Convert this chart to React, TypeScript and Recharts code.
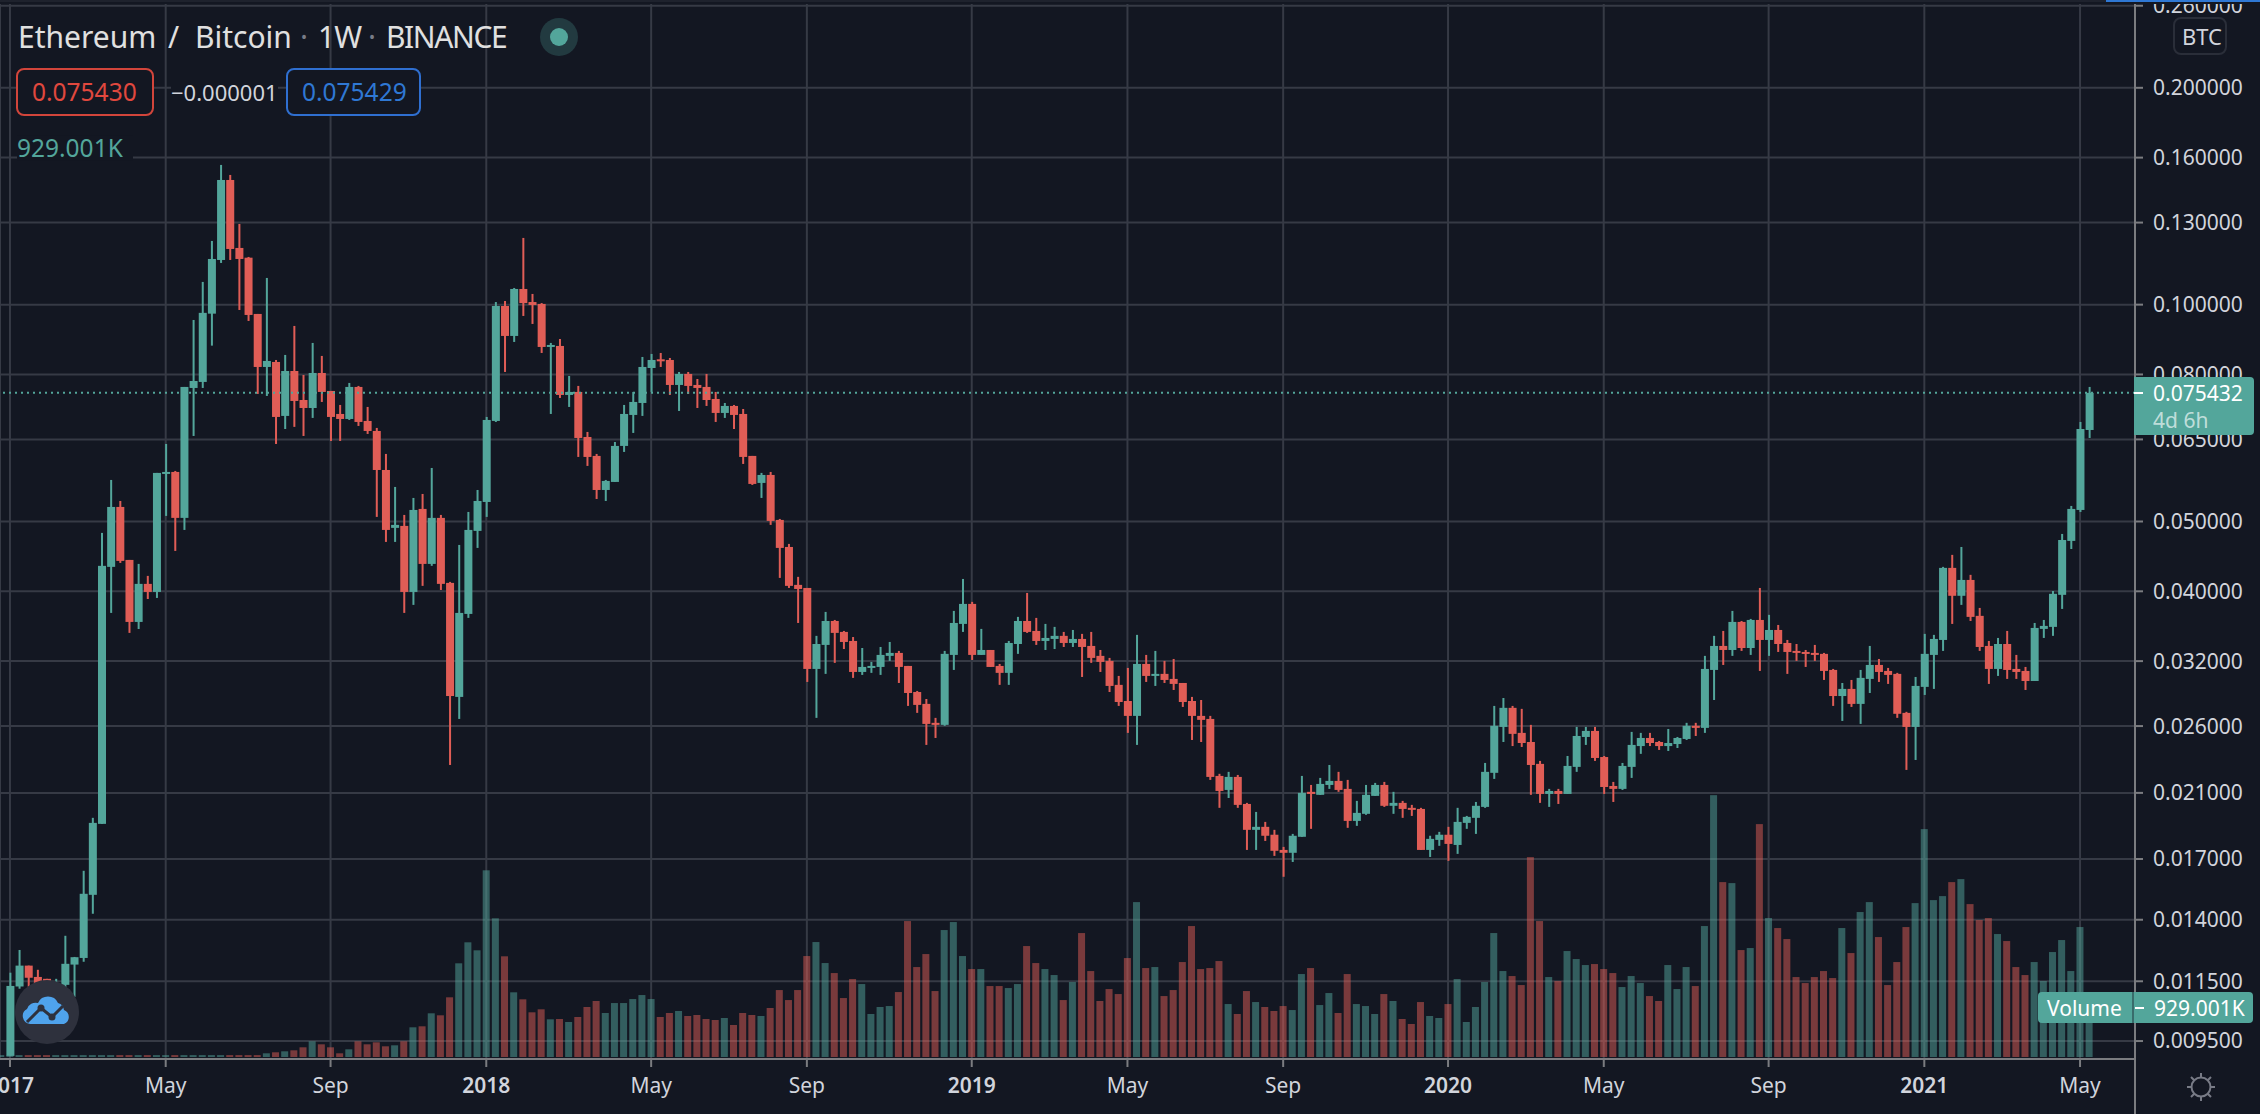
import React from 'react';
import { Bar, CartesianGrid, ComposedChart, ReferenceLine, XAxis, YAxis } from 'recharts';

const BG = '#131722';
const GRID = '#363a45';
const AXIS = '#7b7c80';
const TEXT = '#d1d4dc';
const UP = '#53a69b';
const DOWN = '#e05d56';
const FONT = '"Noto Sans", sans-serif';

// weekly candles ETH/BTC, first one is the week of 2 Jan 2017, prices in 1e-5 BTC
const opens = [
  906,1131,1209,1166,1159,1084,1137,1213,1239,1516,
  1902,4325,5238,4422,3627,4096,3992,5821,5858,5058,
  7662,7811,9716,11535,14896,11987,11620,9707,8194,8326,
  7007,8089,7373,7187,8038,7589,7051,6939,7687,6895,
  6678,5895,4899,4930,3992,5205,4366,5058,4109,2854,
  3721,4852,5322,6895,9958,9048,10514,10084,10022,8735,
  8763,7493,7565,6551,6166,5530,5674,6366,7029,7303,
  8167,8397,8379,7736,8013,7736,7687,7397,7074,7234,
  7051,6166,5656,5802,5025,4609,4083,4043,3121,3370,
  3638,3513,3413,3091,3131,3141,3254,3285,3151,2899,
  2791,2627,2610,3264,3604,3842,3264,3316,3151,3082,
  3380,3638,3524,3413,3435,3469,3391,3435,3359,3254,
  3202,2966,2817,2686,3171,3052,3072,3023,2984,2817,
  2686,2660,2217,2120,2210,2027,1866,1884,1837,1750,
  1734,1825,2107,2087,2154,2182,2127,1920,1964,2080,
  2154,2015,2034,2002,1995,1750,1807,1837,1778,1908,
  1939,2008,2239,2593,2756,2544,2471,2304,2093,2113,
  2093,2282,2511,2560,2355,2147,2127,2282,2439,2503,
  2471,2439,2455,2495,2602,2585,3111,3359,3316,3627,
  3337,3650,3424,3535,3391,3306,3295,3285,3275,3111,
  2862,2928,2791,3023,3161,3101,3072,2712,2593,2947,
  3264,3424,4311,3943,4148,3698,3359,3121,3380,3121,
  3101,3003,3547,3570,3955,4699,5188,6699,
];
const highs = [
  1182,1271,1209,1193,1159,1159,1330,1243,1637,1939,
  4821,5710,5339,4422,4366,4202,5840,6406,5877,7687,
  9522,10753,12258,15630,15138,12943,11647,9707,10891,8379,
  8515,9342,7987,8848,8488,7589,7257,7786,7712,7211,
  6743,6205,5584,5106,5391,5460,5933,5106,4122,4639,
  5155,5530,6984,10084,10117,10548,12377,10348,10051,8848,
  8960,7962,7712,6657,6205,5710,6447,7257,7565,8460,
  8542,8569,8433,8064,8064,7885,8013,7565,7303,7257,
  7164,6166,5840,5858,5041,4654,4189,4043,3469,3745,
  3650,3524,3456,3337,3192,3348,3402,3306,3151,2909,
  2835,2669,3306,3757,4161,3867,3547,3316,3171,3413,
  3686,3979,3674,3604,3570,3513,3535,3491,3513,3316,
  3233,3052,3131,3480,3264,3306,3202,3222,2984,2854,
  2826,2686,2232,2246,2224,2034,1976,1914,1866,1767,
  1842,2217,2154,2203,2296,2246,2189,2047,2154,2168,
  2175,2107,2047,2021,2002,1831,1854,1884,2002,1951,
  2040,2311,2773,2844,2773,2747,2610,2326,2127,2127,
  2363,2593,2593,2593,2363,2175,2311,2552,2544,2544,
  2479,2576,2511,2627,2627,3254,3469,3524,3757,3638,
  3662,4043,3710,3592,3424,3380,3316,3370,3285,3121,
  2984,3013,3111,3359,3222,3131,3082,2721,3042,3491,
  3480,4325,4494,4609,4216,3793,3413,3446,3524,3264,
  3141,3615,3650,4004,4805,5255,6873,7687,
];
const lows = [
  906,1123,1130,1101,1084,1067,1119,1094,1224,1427,
  1902,3733,4380,3502,3546,3903,3916,5090,4551,4867,
  6572,7662,8772,11426,11535,9831,9492,7517,7469,6406,
  6720,6766,6572,6962,7327,6468,6468,6917,6786,6615,
  5074,4684,4684,3733,3830,4070,4339,4017,2296,2660,
  3674,4595,5074,6873,8064,8876,9645,9402,8569,7051,
  7421,7211,6146,5972,5373,5339,5674,6245,6636,7007,
  7565,8194,7493,7119,7517,7187,7234,6873,6962,6720,
  6010,5620,5391,4946,4175,4043,3615,2994,2669,3072,
  3182,3326,3033,3062,3082,3062,3202,2984,2773,2712,
  2448,2503,2602,3111,3513,3212,3264,3141,2966,2966,
  3275,3502,3370,3316,3326,3348,3348,3042,3182,3091,
  2899,2773,2544,2448,2994,2956,2984,2918,2764,2487,
  2471,2189,2002,2066,2002,1750,1750,1801,1717,1606,
  1684,1825,1872,2087,2127,2107,1878,1890,1958,2080,
  2008,1964,1939,1951,1750,1711,1773,1690,1728,1872,
  1842,2002,2196,2471,2439,2432,2087,2034,2008,2027,
  2093,2246,2448,2326,2093,2040,2120,2203,2379,2439,
  2409,2401,2424,2487,2519,2544,2826,3161,3254,3306,
  3264,3101,3254,3295,3072,3202,3141,3202,3013,2773,
  2643,2764,2618,2890,2994,2975,2669,2260,2333,2872,
  2928,3306,3604,3830,3638,3306,2975,3052,3023,3023,
  2918,3003,3446,3469,3781,4579,5155,6530,
];
const closes = [
  1133,1209,1163,1126,1108,1137,1216,1242,1521,1908,
  4339,5238,4408,3627,4096,3992,5840,5858,5058,7687,
  7835,9741,11572,14896,11948,11572,9676,8194,8353,6984,
  8089,7350,7187,8038,7565,6984,6939,7687,6873,6678,
  5895,4867,4946,3992,5188,4366,5058,4096,2862,3733,
  4867,5339,6917,9958,9048,10514,10051,9990,8735,8791,
  7493,7565,6530,6146,5530,5692,6366,7051,7327,8194,
  8379,8345,7736,8013,7712,7662,7373,7074,7234,7029,
  6146,5638,5802,5009,4595,4070,4030,3121,3380,3638,
  3502,3402,3091,3141,3151,3264,3285,3141,2890,2782,
  2618,2610,3275,3615,3842,3264,3316,3141,3082,3391,
  3638,3513,3413,3446,3469,3391,3435,3348,3233,3192,
  2956,2808,2686,3171,3052,3072,3013,2975,2808,2686,
  2652,2210,2113,2210,2021,1866,1884,1831,1745,1734,
  1831,2100,2093,2161,2182,2120,1920,1970,2087,2154,
  2015,2034,1995,1989,1750,1813,1837,1784,1914,1945,
  2015,2246,2602,2756,2536,2463,2296,2093,2113,2093,
  2289,2519,2560,2348,2140,2127,2289,2448,2503,2463,
  2439,2463,2503,2602,2585,3121,3359,3316,3627,3337,
  3650,3424,3535,3380,3295,3285,3275,3264,3101,2862,
  2928,2791,3033,3161,3091,3062,2704,2593,2956,3275,
  3435,4311,3943,4148,3686,3348,3121,3380,3111,3091,
  3003,3558,3581,3968,4713,5205,6720,7543.2,
];

// volume in thousands, starts one week earlier than the candles (that candle is off scale)
const volumes = [
  36,36,36,36,36,36,36,36,36,36,36,36,36,36,36,36,36,36,36,36,36,36,36,36,36,36,36,36,36,
  70,89,108,127,184,298,241,184,70,146,298,241,279,203,222,298,564,583,830,792,
  1134,1780,2179,2027,3547,2635,1913,1229,1096,849,906,716,722,
  665,760,950,1064,836,1025,1025,1101,1177,1101,760,836,874,779,798,722,703,741,608,
  836,798,779,931,1272,1082,1272,1918,2184,1785,1595,1120,1481,1386,817,950,968,1234,
  2583,1709,1956,1253,2412,2564,1918,1671,1671,1348,1348,1310,1386,2108,1785,1671,1557,
  1082,1424,2355,1633,1064,1291,1196,1880,2943,1690,1709,1158,1272,1804,2488,1671,1690,
  1823,1006,817,1253,1044,950,874,968,892,1576,1690,987,1215,836,1576,1006,968,817,1196,
  1064,722,627,1044,779,741,1006,1481,665,950,1424,2355,1633,1538,1367,3798,2583,1519,
  1443,2013,1861,1747,1766,1671,1595,1329,1538,1405,1158,1064,1747,1291,1709,1348,2488,
  4975,3323,3304,2032,2070,4425,2640,2450,2241,1519,1405,1519,1633,1500,2450,1975,2754,
  2943,2279,1367,1804,2469,2924,4330,2981,3057,3323,3380,2905,2602,2640,2336,2203,1709,
  1557,1804,1443,1994,2222,1633,2469,929,
];

const priceTicks = [0.26, 0.2, 0.16, 0.13, 0.1, 0.08, 0.065, 0.05, 0.04, 0.032, 0.026, 0.021, 0.017, 0.014, 0.0115, 0.0095];
const weekTicks = [0, 17, 35, 52, 70, 87, 105, 122, 139, 157, 174, 192, 209, 226];
const weekLabels = ['2017', 'May', 'Sep', '2018', 'May', 'Sep', '2019', 'May', 'Sep', '2020', 'May', 'Sep', '2021', 'May'];
const lastPrice = 0.075432;

const data = volumes.map((volume, k) => {
  const c = k - 1;
  if (c < 0) return { week: c, volume, up: true, wick: null, body: null };
  const o = opens[c] / 1e5;
  const cl = closes[c] / 1e5;
  return {
    week: c,
    volume,
    up: cl >= o,
    wick: [lows[c] / 1e5, highs[c] / 1e5],
    body: [Math.min(o, cl), Math.max(o, cl)],
  };
});

const weekDomain = [-1.09, 232];
const priceDomain = [0.00897, 0.2648];
const volumeDomain = [-38, 20083];

const Candle = (props: any) => {
  const { x, y, width, height, payload } = props;
  if (!payload || payload.wick == null || !isFinite(y) || !isFinite(height)) return null;
  return <rect x={x} y={y} width={width} height={Math.max(height, 2)} fill={payload.up ? UP : DOWN} />;
};

const VolumeBar = (props: any) => {
  const { x, y, width, height, payload } = props;
  return <rect x={x} y={y} width={width} height={height} fill={payload.up ? UP : DOWN} fillOpacity={0.5} />;
};

const WeekTick = (props: any) => {
  const { x, y, payload } = props;
  const label = weekLabels[weekTicks.indexOf(payload.value)];
  const isYear = /^\d/.test(label);
  return (
    <text x={x} y={y + 16} textAnchor="middle" dominantBaseline="central" fill={TEXT} fontFamily={FONT} fontSize={21} fontWeight={isYear ? 600 : 400}>
      {label}
    </text>
  );
};

const label = (left: number, top: number, text: string, color: string, size: number, extra?: React.CSSProperties) => (
  <div style={{ position: 'absolute', left, top, lineHeight: '1', transform: 'translateY(-50%)', color, fontSize: size, fontFamily: FONT, whiteSpace: 'nowrap', ...extra }}>
    {text}
  </div>
);

const box = (left: number, top: number, width: number, height: number, color: string) => (
  <div style={{ position: 'absolute', left, top, width, height, boxSizing: 'border-box', border: `2px solid ${color}`, borderRadius: 8, background: BG }} />
);

const App = () => {
  return (
    <div style={{ position: 'absolute', left: 0, top: 0, width: 2260, height: 1114, background: BG, overflow: 'hidden' }}>
      <ComposedChart width={2260} height={1114} data={data} margin={{ top: 0, right: 0, bottom: 0, left: 0 }} barGap={0}>
        <XAxis xAxisId="main" dataKey="week" type="number" domain={weekDomain} allowDataOverflow ticks={weekTicks} interval={0} height={55} tick={<WeekTick />} tickSize={8} tickLine={{ stroke: AXIS, strokeWidth: 2 }} axisLine={{ stroke: AXIS, strokeWidth: 2 }} />
        <XAxis xAxisId="wick" dataKey="week" type="number" domain={weekDomain} allowDataOverflow hide />
        <XAxis xAxisId="vol" dataKey="week" type="number" domain={weekDomain} allowDataOverflow hide />
        <YAxis yAxisId="price" orientation="right" scale="log" domain={priceDomain} allowDataOverflow ticks={priceTicks} interval={0} width={125} tickSize={8} tickMargin={10} tickFormatter={(v: number) => v.toFixed(6)} tick={{ fill: TEXT, fontSize: 21, fontFamily: FONT }} tickLine={{ stroke: AXIS, strokeWidth: 2 }} axisLine={{ stroke: AXIS, strokeWidth: 2 }} />
        <YAxis yAxisId="vol" domain={volumeDomain} allowDataOverflow hide />
        <CartesianGrid xAxisId="main" yAxisId="price" stroke={GRID} strokeWidth={2} />
        <Bar xAxisId="vol" yAxisId="vol" dataKey="volume" barSize={7} shape={<VolumeBar />} isAnimationActive={false} />
        <ReferenceLine xAxisId="main" yAxisId="price" y={lastPrice} stroke={UP} strokeWidth={2} strokeDasharray="2 4" />
        <Bar xAxisId="wick" yAxisId="price" dataKey="wick" barSize={2} shape={<Candle />} isAnimationActive={false} />
        <Bar xAxisId="main" yAxisId="price" dataKey="body" barSize={8} shape={<Candle />} isAnimationActive={false} />
      </ComposedChart>

      {/* top strip clips the 0.26 label */}
      <div style={{ position: 'absolute', left: 0, top: 0, width: 2260, height: 4, background: BG }} />
      <div style={{ position: 'absolute', left: 0, top: 0, width: 2106, height: 2, background: '#1e222d' }} />
      <div style={{ position: 'absolute', left: 2106, top: 0, width: 154, height: 2, background: '#2f78d4' }} />
      <div style={{ position: 'absolute', left: 2134, top: 1059, width: 2, height: 55, background: AXIS }} />

      {/* legend */}
      {label(18, 37, 'Ethereum', '#e0e0e0', 30)}
      {label(168, 37, '/', '#e0e0e0', 30)}
      {label(195, 37, 'Bitcoin', '#e0e0e0', 30)}
      {label(300, 37, '·', '#787b86', 30)}
      {label(318, 37, '1W', '#e0e0e0', 30, { letterSpacing: -1 })}
      {label(368, 37, '·', '#787b86', 30)}
      {label(386, 37, 'BINANCE', '#e0e0e0', 30, { letterSpacing: -1.4 })}
      <div style={{ position: 'absolute', left: 540, top: 18, width: 38, height: 38, borderRadius: 19, background: '#223a40' }} />
      <div style={{ position: 'absolute', left: 550, top: 28, width: 18, height: 18, borderRadius: 9, background: UP }} />
      {box(16, 68, 138, 48, '#d2453b')}
      {label(32, 92, '0.075430', '#e0483e', 24.5)}
      {label(171, 92, '−0.000001', TEXT, 22, { background: BG })}
      {box(286, 68, 135, 48, '#2f6fd0')}
      {label(302, 92, '0.075429', '#2f78d4', 24.5)}
      {label(17, 148, '929.001K', UP, 24.5, { background: BG, paddingRight: 10 })}

      {/* price scale widgets */}
      <div style={{ position: 'absolute', left: 2173, top: 17, width: 54, height: 38, boxSizing: 'border-box', border: '2px solid #2a2e39', borderRadius: 8, background: BG }} />
      {label(2182, 36, 'BTC', TEXT, 22)}
      <div style={{ position: 'absolute', left: 2134, top: 377, width: 120, height: 58, background: UP, borderRadius: '0 4px 4px 0' }} />
      <div style={{ position: 'absolute', left: 2134, top: 392, width: 9, height: 2, background: '#fff' }} />
      {label(2153, 393, '0.075432', '#fff', 21)}
      {label(2153, 420, '4d 6h', 'rgba(255,255,255,0.65)', 21)}
      <div style={{ position: 'absolute', left: 2038, top: 992, width: 215, height: 31, background: UP, borderRadius: 4 }} />
      <div style={{ position: 'absolute', left: 2132, top: 992, width: 2, height: 31, background: BG, opacity: 0.4 }} />
      <div style={{ position: 'absolute', left: 2135, top: 1007, width: 9, height: 2, background: '#fff' }} />
      {label(2047, 1008, 'Volume', '#fff', 21)}
      {label(2154, 1008, '929.001K', '#fff', 21)}

      {/* logo and settings icons */}
      <svg style={{ position: 'absolute', left: 0, top: 960 }} width={110} height={110}>
        <circle cx={47} cy={52} r={32} fill="#2e313d" />
        <path d="M30 64 a8 8 0 0 1 -3 -15 a9 9 0 0 1 11 -6 a11 11 0 0 1 20 0 a8 8 0 0 1 6 7 a7.5 7.5 0 0 1 0 14 z" fill="#4fa3ec" />
        <polyline points="27,62 41,48 52,57 63,46" fill="none" stroke="#2e313d" strokeWidth={3} />
        <circle cx={41} cy={48} r={3.5} fill="#2e313d" />
        <circle cx={52} cy={57} r={3.5} fill="#2e313d" />
      </svg>
      <svg style={{ position: 'absolute', left: 2185, top: 1071 }} width={32} height={32}>
        <circle cx={16} cy={16} r={9.5} fill="none" stroke="#787b86" strokeWidth={2} />
        <path d="M16 2v5 M16 25v5 M2 16h5 M25 16h5 M6 6l3.5 3.5 M22.5 22.5l3.5 3.5 M6 26l3.5-3.5 M22.5 9.5l3.5-3.5" stroke="#787b86" strokeWidth={2} />
      </svg>
    </div>
  );
};

export default App;
